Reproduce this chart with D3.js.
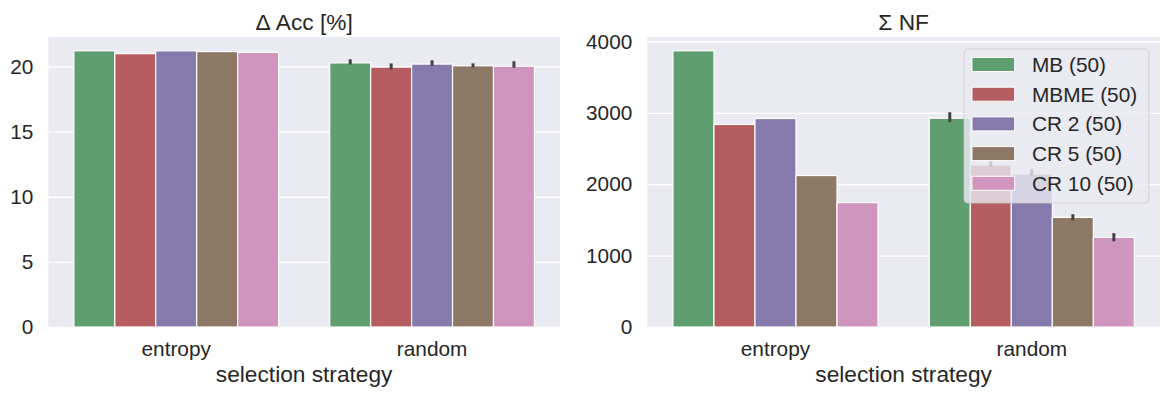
<!DOCTYPE html>
<html>
<head>
<meta charset="utf-8">
<script src="https://cdn.jsdelivr.net/npm/d3@7"></script>
<style>
  body { margin: 0; background: #fff; }
  svg text { font-family: "Liberation Sans", Arial, sans-serif; fill: #262626; }
</style>
</head>
<body>
<div id="chart"></div>
<script>
// categories and series
const strategies = ['entropy', 'random'];
const methods = ['MB (50)', 'MBME (50)', 'CR 2 (50)', 'CR 5 (50)', 'CR 10 (50)'];
const methodColors = ['#5f9e6e', '#b55d60', '#857aab', '#8d7866', '#d095bf'];

// Δ Acc [%]
const accEntropy = [21.2, 20.98, 21.2, 21.14, 21.08];
const accRandom = [20.27, 19.95, 20.18, 20.05, 20.02];
const accRandomLo = [20.15, 19.78, 20.05, 19.93, 19.9];
const accRandomHi = [20.55, 20.23, 20.47, 20.24, 20.4];
const accTicks = [0, 5, 10, 15, 20];

// Σ NF
const nfEntropy = [3870, 2838, 2921, 2122, 1743];
const nfRandom = [2925, 2270, 2145, 1535, 1256];
const nfRandomLo = [2870, 2245, 2115, 1495, 1200];
const nfRandomHi = [3010, 2330, 2210, 1580, 1315];
const nfTicks = [0, 1000, 2000, 3000, 4000];

const svg = d3.select('#chart').append('svg')
    .attr('width', 1169)
    .attr('height', 395);

class BarPanel {
    constructor(_config, data) {
        this.config = {
            left: _config.left,
            top: 37,
            width: _config.width,
            height: 290,
            title: _config.title,
            ticks: _config.ticks,
            legend: _config.legend || false
        };
        this.data = data;
        this.initVis();
    }

    initVis() {
        let vis = this;
        vis.g = svg.append('g')
            .attr('transform', `translate(${vis.config.left},${vis.config.top})`);

        vis.g.append('rect')
            .attr('width', vis.config.width)
            .attr('height', vis.config.height)
            .attr('fill', '#eaeaf2');

        vis.xScale = d3.scaleBand().domain(strategies).range([0, vis.config.width]).padding(0);
        vis.hueScale = d3.scaleBand().domain(methods).padding(0);

        // seaborn style: 5% headroom above the highest bar or error bar
        let maxVal = d3.max(vis.data, d => Math.max(d.value, d.hi == null ? 0 : d.hi));
        vis.yScale = d3.scaleLinear().domain([0, maxVal * 1.05]).range([vis.config.height, 0]);

        vis.updateVis();
    }

    updateVis() {
        let vis = this;
        let bw = vis.xScale.bandwidth();
        vis.hueScale.range([bw * 0.1, bw * 0.9]);

        // y axis with grid lines
        let yAxis = vis.g.append('g')
            .call(d3.axisLeft(vis.yScale)
                .tickValues(vis.config.ticks)
                .tickFormat(d3.format('d'))
                .tickSize(-vis.config.width)
                .tickPadding(15));
        yAxis.select('.domain').remove();
        yAxis.selectAll('line').attr('stroke', '#fff').attr('stroke-width', 1.4);
        yAxis.selectAll('text').attr('font-size', '20.8px').attr('fill', '#262626');

        let xAxis = vis.g.append('g')
            .attr('transform', `translate(0,${vis.config.height})`)
            .call(d3.axisBottom(vis.xScale).tickSize(0).tickPadding(14));
        xAxis.select('.domain').remove();
        xAxis.selectAll('text').attr('font-size', '20.8px').attr('fill', '#262626');

        vis.g.append('text')
            .attr('x', vis.config.width / 2)
            .attr('y', -7)
            .attr('text-anchor', 'middle')
            .attr('font-size', '22.7px')
            .text(vis.config.title);

        vis.g.append('text')
            .attr('x', vis.config.width / 2)
            .attr('y', 345)
            .attr('text-anchor', 'middle')
            .attr('font-size', '22.7px')
            .text('selection strategy');

        vis.renderVis();
    }

    renderVis() {
        let vis = this;
        let x = d => vis.xScale(d.strategy) + vis.hueScale(d.method);

        vis.g.append('g').selectAll('rect')
            .data(vis.data)
            .join('rect')
            .attr('x', x)
            .attr('y', d => vis.yScale(d.value))
            .attr('width', vis.hueScale.bandwidth())
            .attr('height', d => vis.yScale(0) - vis.yScale(d.value))
            .attr('fill', d => methodColors[methods.indexOf(d.method)])
            .attr('stroke', '#fff')
            .attr('stroke-width', 1.2);

        vis.g.append('g').selectAll('line')
            .data(vis.data.filter(d => d.lo != null))
            .join('line')
            .attr('x1', d => x(d) + vis.hueScale.bandwidth() / 2)
            .attr('x2', d => x(d) + vis.hueScale.bandwidth() / 2)
            .attr('y1', d => vis.yScale(d.lo))
            .attr('y2', d => vis.yScale(d.hi))
            .attr('stroke', '#424242')
            .attr('stroke-width', 3);

        if (vis.config.legend) vis.renderLegend();
    }

    renderLegend() {
        let vis = this;
        let lg = vis.g.append('g')
            .attr('transform', `translate(${vis.config.width - 196},12)`);

        lg.append('rect')
            .attr('width', 185)
            .attr('height', 154)
            .attr('rx', 4)
            .attr('fill', '#eaeaf2')
            .attr('fill-opacity', 0.8)
            .attr('stroke', '#cccccc')
            .attr('stroke-opacity', 0.8)
            .attr('stroke-width', 1);

        let item = lg.selectAll('.legend-item')
            .data(methods)
            .join('g')
            .attr('class', 'legend-item')
            .attr('transform', (d, i) => `translate(8,${15.5 + i * 29.7})`);

        item.append('rect')
            .attr('y', -7)
            .attr('width', 42.7)
            .attr('height', 14)
            .attr('fill', (d, i) => methodColors[i])
            .attr('stroke', '#fff')
            .attr('stroke-width', 1);

        item.append('text')
            .attr('x', 60)
            .attr('dy', '0.36em')
            .attr('font-size', '20.8px')
            .text(d => d);
    }
}

function rows(entropy, random, lo, hi) {
    let out = [];
    methods.forEach((m, i) => out.push({ strategy: 'entropy', method: m, value: entropy[i], lo: null, hi: null }));
    methods.forEach((m, i) => out.push({ strategy: 'random', method: m, value: random[i], lo: lo[i], hi: hi[i] }));
    return out;
}

new BarPanel({ left: 48.3, width: 511.7, title: 'Δ Acc [%]', ticks: accTicks },
    rows(accEntropy, accRandom, accRandomLo, accRandomHi));
new BarPanel({ left: 647.3, width: 512.7, title: 'Σ NF', ticks: nfTicks, legend: true },
    rows(nfEntropy, nfRandom, nfRandomLo, nfRandomHi));
</script>
</body>
</html>
